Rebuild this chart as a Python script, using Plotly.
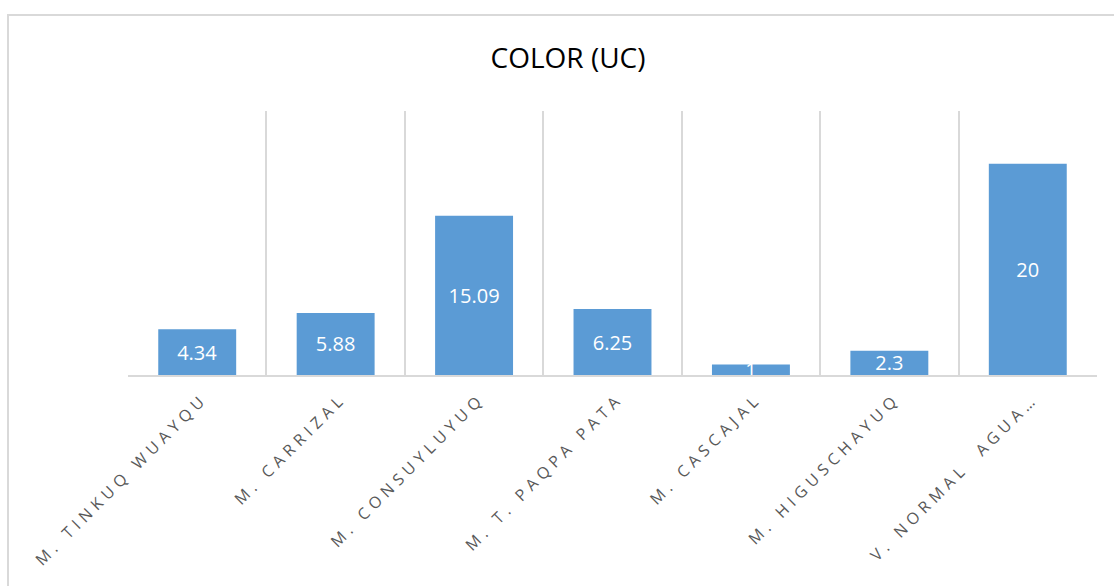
import plotly.graph_objects as go

# Sampling points and measured colour values
categories = [
    "M. TINKUQ WUAYQU",
    "M. CARRIZAL",
    "M. CONSUYLUYUQ",
    "M. T. PAQPA PATA",
    "M. CASCAJAL",
    "M. HIGUSCHAYUQ",
    "V. NORMAL  AGUA…",
]
values = [4.34, 5.88, 15.09, 6.25, 1, 2.3, 20]
value_labels = ["4.34", "5.88", "15.09", "6.25", "1", "2.3", "20"]

W, H = 1114, 586
L, R, T, B = 128, 17, 111, 211
pw, ph = W - L - R, H - T - B

def px_x(x):
    return (x - L) / pw

def px_y(y):
    return (H - B - y) / ph

fig = go.Figure(
    go.Bar(
        x=categories,
        y=values,
        text=value_labels,
        textposition="inside",
        insidetextanchor="middle",
        constraintext="none",
        textangle=0,
        textfont=dict(family="Open Sans", size=20, color="#ffffff"),
        marker=dict(color="#5b9bd5", line=dict(width=0)),
        hoverinfo="x+y",
    )
)

fig.update_layout(
    width=W,
    height=H,
    margin=dict(l=L, r=R, t=T, b=B, autoexpand=False),
    paper_bgcolor="#ffffff",
    plot_bgcolor="#ffffff",
    bargap=0.437,
    showlegend=False,
    title=dict(
        text="COLOR (UC)",
        x=568 / W,
        xref="container",
        xanchor="center",
        y=1 - 58 / H,
        yref="container",
        yanchor="middle",
        font=dict(family="Open Sans", size=28, color="#000000"),
    ),
    shapes=[
        # outer chart frame
        dict(
            type="rect",
            xref="paper",
            yref="paper",
            x0=px_x(8),
            x1=px_x(1140),
            y0=px_y(620),
            y1=px_y(15),
            line=dict(color="#d9d9d9", width=2),
            fillcolor="rgba(0,0,0,0)",
            layer="below",
        )
    ],
)

fig.update_xaxes(
    type="category",
    tickson="boundaries",
    showgrid=True,
    gridcolor="#d9d9d9",
    gridwidth=2,
    showline=True,
    linecolor="#d9d9d9",
    linewidth=2,
    ticks="",
    tickangle=-45,
    ticklabelstandoff=6,
    ticklabelshift=6,
    tickfont=dict(family="Open Sans", size=16, color="#595959"),
    automargin=False,
    fixedrange=True,
)
fig.update_yaxes(
    range=[0, 25],
    showgrid=False,
    showticklabels=False,
    zeroline=False,
    showline=False,
    ticks="",
    automargin=False,
    fixedrange=True,
)

spacing_js = """
document.querySelectorAll('.xtick text').forEach(function(t){
  t.style.letterSpacing = '5px';
});
"""

fig.write_html("out.html", post_script=spacing_js, config={"displayModeBar": False})
